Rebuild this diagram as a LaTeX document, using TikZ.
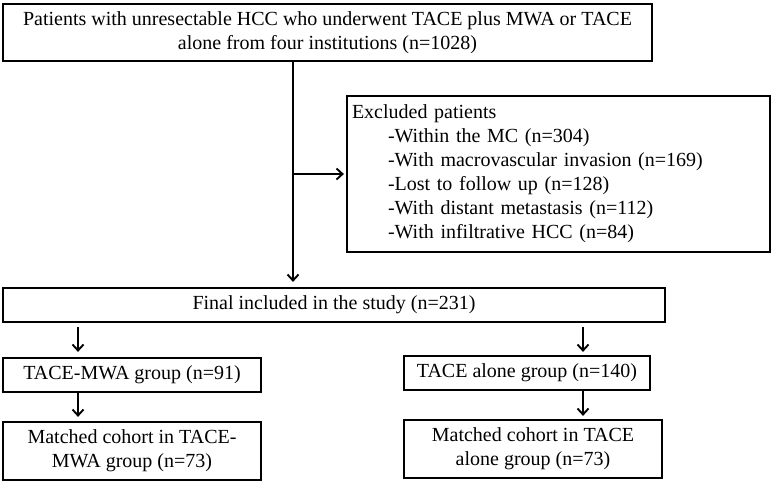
\documentclass[tikz,border=0pt]{standalone}
\usepackage{fontspec}
\setmainfont{Liberation Serif}
\usetikzlibrary{arrows.meta}

\begin{document}
\begin{tikzpicture}[>={Straight Barb[length=6pt,width=11pt]}, x=1pt, y=-1pt,
  flowbox/.style={draw, line width=2.2pt, inner sep=5pt, font=\fontsize{20}{24}\selectfont},
  flow/.style={->, line width=1.9pt}]

\useasboundingbox (0,0) rectangle (783,484);

\node (top) at (327.5,32.5) [flowbox, minimum width=649pt, minimum height=57pt, align=center]
  {Patients with unresectable HCC who underwent TACE plus MWA or TACE\\alone from four institutions (n=1028)};

\node (excl) at (558.5,174) [flowbox, minimum width=423pt, minimum height=156pt, text width=413pt, align=left]
  {Excluded patients\\
   \hspace*{36pt}-Within the MC (n=304)\\
   \hspace*{36pt}-With macrovascular invasion (n=169)\\
   \hspace*{36pt}-Lost to follow up (n=128)\\
   \hspace*{36pt}-With distant metastasis (n=112)\\
   \hspace*{36pt}-With infiltrative HCC (n=84)};

\node (final) at (334,305) [flowbox, minimum width=662pt, minimum height=34pt]
  {Final included in the study (n=231)};

\node (mwa) at (132,375) [flowbox, minimum width=258pt, minimum height=34pt]
  {TACE-MWA group (n=91)};
\node (alone) at (527,373) [flowbox, minimum width=246pt, minimum height=34pt]
  {TACE alone group (n=140)};

\node (mmwa) at (132,451) [flowbox, minimum width=258pt, minimum height=58pt, align=center]
  {Matched cohort in TACE-\\MWA group (n=73)};
\node (malone) at (533,449) [flowbox, minimum width=258pt, minimum height=58pt, align=center]
  {Matched cohort in TACE\\alone group (n=73)};

\coordinate (trunk) at (293,0);
\coordinate (lbranch) at (78,0);
\coordinate (rbranch) at (583,0);

\draw[flow, shorten >=5pt] (top.south -| trunk) -- (final.north -| trunk);
\draw[flow, shorten >=2pt] (trunk |- excl.west) -- (excl.west);

\draw[flow, shorten <=4pt, shorten >=5pt] (final.south -| lbranch) -- (mwa.north -| lbranch);
\draw[flow, shorten >=4pt] (mwa.south -| lbranch) -- (mmwa.north -| lbranch);

\draw[flow, shorten <=4pt, shorten >=3pt] (final.south -| rbranch) -- (alone.north -| rbranch);
\draw[flow, shorten >=3pt] (alone.south -| rbranch) -- (malone.north -| rbranch);

\end{tikzpicture}
\end{document}
